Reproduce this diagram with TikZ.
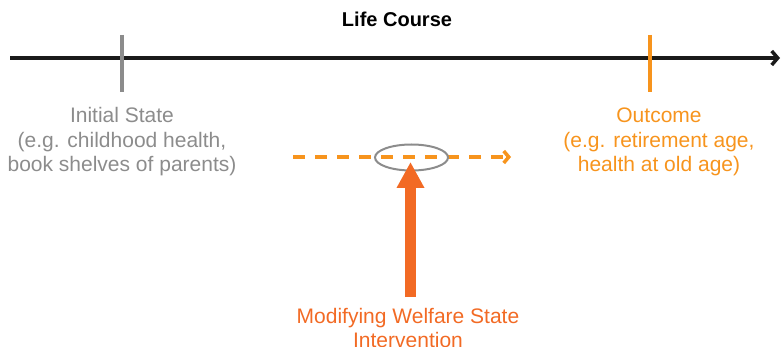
\documentclass[tikz,border=0pt]{standalone}
\usepackage{fontspec}
\setmainfont{Liberation Sans}
\usetikzlibrary{arrows.meta,shapes.geometric}
\definecolor{axisblack}{HTML}{1A1A1A}
\definecolor{stategray}{HTML}{8C8C8C}
\definecolor{lightorange}{HTML}{F7941D}
\definecolor{deeporange}{HTML}{F26A24}
\begin{document}
\begin{tikzpicture}[x=1pt,y=-1pt,
  % multi-line labels are anchored at the baseline of their last line
  label text/.style={inner sep=0pt, align=center, anchor=base,
    font=\fontsize{21}{24.5}\selectfont},
  tickline/.style={line width=4pt},
  ]
\useasboundingbox (0,0) rectangle (781,347);

% title and time axis
\node[inner sep=0pt, anchor=base, font=\fontsize{20}{24}\selectfont\bfseries] (title) at (397,27) {Life Course};
\coordinate (axisL) at (10,58);
\coordinate (axisR) at (780,58);
\draw[axisblack, line width=3.5pt, -{Straight Barb[length=6pt,width=14pt]}] (axisL) -- (axisR);

% time points on the axis
\coordinate (t0top) at (122,35);
\coordinate (t0bot) at (122,92);
\coordinate (t1top) at (650,35);
\coordinate (t1bot) at (650,92);
\draw[tickline, stategray] (t0top) -- (t0bot);
\draw[tickline, lightorange] (t1top) -- (t1bot);

% labels of the two states
\node[label text, stategray] (initial) at (122,172)
  {Initial State\\(e.g. childhood health,\\book shelves of parents)};
\node[label text, lightorange] (outcome) at (659,172)
  {Outcome\\(e.g. retirement age,\\health at old age)};

% dashed path from initial state towards the outcome
\coordinate (pathL) at (293,157);
\coordinate (pathR) at (511,157);
\draw[lightorange, line width=3.5pt, dash pattern=on 12pt off 10pt,
  -{Straight Barb[length=5pt,width=12pt]}] (pathL) -- (pathR);

% point of intervention
\node[draw=stategray, line width=2pt, ellipse, minimum width=73pt, minimum height=26pt,
  inner sep=0pt] (hit) at (411.5,157.5) {};

% intervention arrow and its label
\node[label text, deeporange] (intervention) at (408,347.5)
  {Modifying Welfare State\\Intervention};
\coordinate (armTail) at (410.5,297);
\coordinate (armTip) at (410.5,162);
\draw[deeporange, line width=11pt, -{Triangle[length=26pt,width=26pt]}] (armTail) -- (armTip);
\end{tikzpicture}
\end{document}
